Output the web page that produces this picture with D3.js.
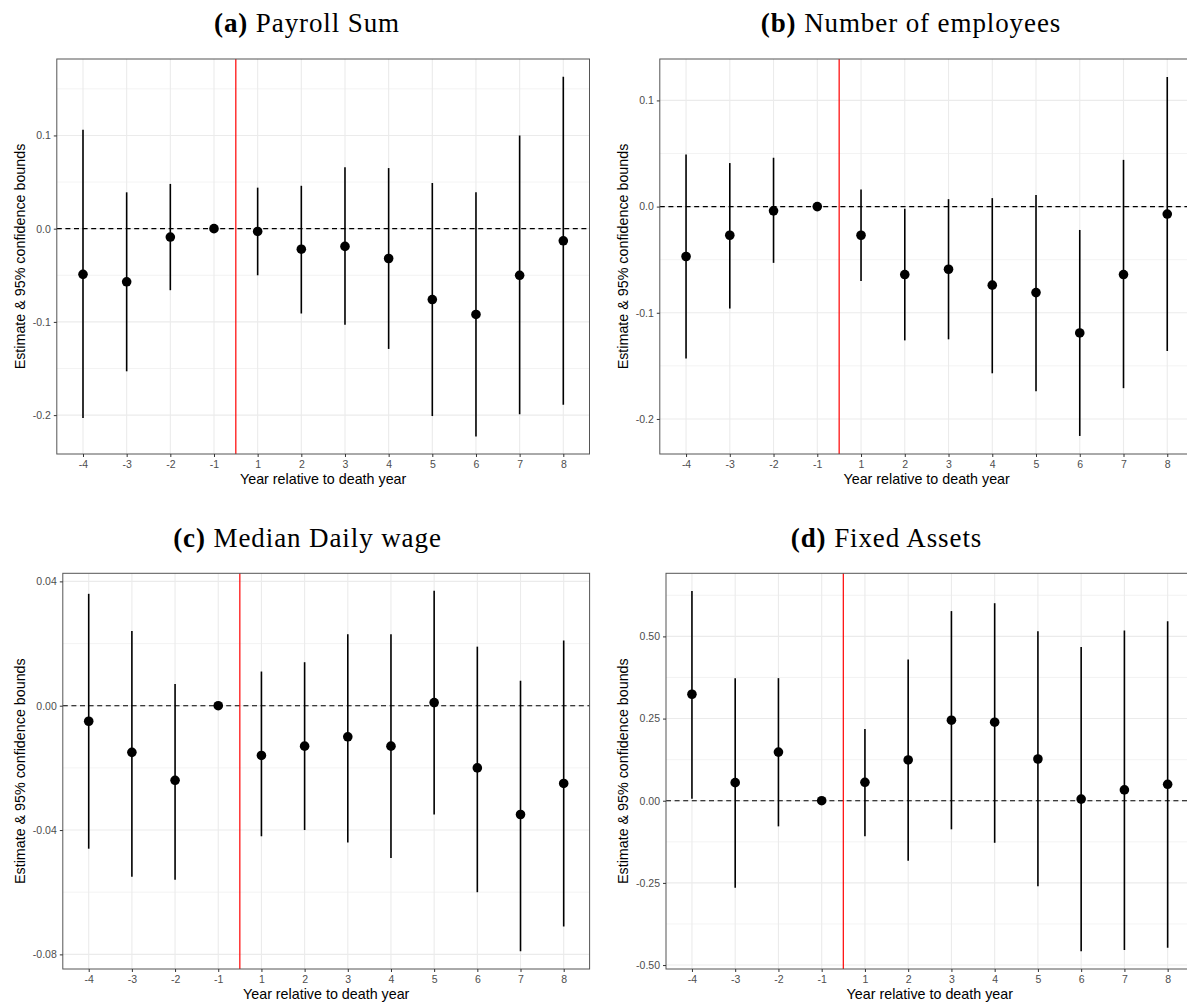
<!DOCTYPE html>
<html>
<head>
<meta charset="utf-8">
<script src="https://cdn.jsdelivr.net/npm/d3@7"></script>
<style>
body{margin:0;background:#fff}
svg{display:block}
</style>
</head>
<body>
<svg></svg>
<script>
// years relative to death year (discrete axis)
let years = ["-4","-3","-2","-1","1","2","3","4","5","6","7","8"]

// (a) payroll sum
let payrollEst  = [-0.049,-0.057,-0.009,0,-0.003,-0.022,-0.019,-0.032,-0.076,-0.092,-0.050,-0.013]
let payrollLow  = [-0.203,-0.153,-0.066,0,-0.050,-0.091,-0.103,-0.129,-0.201,-0.223,-0.199,-0.189]
let payrollHigh = [0.106,0.039,0.048,0,0.044,0.046,0.066,0.065,0.049,0.039,0.100,0.163]
let payrollTicks = [-0.2,-0.1,0,0.1]
let payrollTickLabels = ["-0.2","-0.1","0.0","0.1"]

// (b) number of employees
let employeesEst  = [-0.047,-0.027,-0.004,0,-0.027,-0.064,-0.059,-0.074,-0.081,-0.119,-0.064,-0.007]
let employeesLow  = [-0.143,-0.096,-0.053,0,-0.070,-0.126,-0.125,-0.157,-0.174,-0.216,-0.171,-0.136]
let employeesHigh = [0.049,0.041,0.046,0,0.016,-0.002,0.007,0.008,0.011,-0.022,0.044,0.122]
let employeesTicks = [-0.2,-0.1,0,0.1]
let employeesTickLabels = ["-0.2","-0.1","0.0","0.1"]

// (c) median daily wage
let wageEst  = [-0.005,-0.015,-0.024,0,-0.016,-0.013,-0.010,-0.013,0.001,-0.020,-0.035,-0.025]
let wageLow  = [-0.046,-0.055,-0.056,0,-0.042,-0.040,-0.044,-0.049,-0.035,-0.060,-0.079,-0.071]
let wageHigh = [0.036,0.024,0.007,0,0.011,0.014,0.023,0.023,0.037,0.019,0.008,0.021]
let wageTicks = [-0.08,-0.04,0,0.04]
let wageTickLabels = ["-0.08","-0.04","0.00","0.04"]

// (d) fixed assets
let assetsEst  = [0.324,0.055,0.148,0,0.056,0.124,0.245,0.239,0.127,0.005,0.033,0.050]
let assetsLow  = [0.006,-0.265,-0.078,0,-0.108,-0.183,-0.087,-0.128,-0.260,-0.458,-0.454,-0.447]
let assetsHigh = [0.638,0.373,0.373,0,0.218,0.430,0.577,0.601,0.516,0.468,0.518,0.546]
let assetsTicks = [-0.5,-0.25,0,0.25,0.5]
let assetsTickLabels = ["-0.50","-0.25","0.00","0.25","0.50"]

let width = 1187
let height = 1003

let svg = d3.select('svg').attr("width", width).attr("height", height)

let panels = [
    {letter:"(a)", title:"Payroll Sum", est:payrollEst, low:payrollLow, high:payrollHigh,
     ticks:payrollTicks, labels:payrollTickLabels, domain:[-0.2417,0.182],
     left:56.8, right:589.5, top:59, bottom:454, titleX:307, titleY:32, yTitleX:25},
    {letter:"(b)", title:"Number of employees", est:employeesEst, low:employeesLow, high:employeesHigh,
     ticks:employeesTicks, labels:employeesTickLabels, domain:[-0.233,0.139],
     left:659.8, right:1193.5, top:59, bottom:454, titleX:911, titleY:32, yTitleX:628},
    {letter:"(c)", title:"Median Daily wage", est:wageEst, low:wageLow, high:wageHigh,
     ticks:wageTicks, labels:wageTickLabels, domain:[-0.0847,0.0426],
     left:62.8, right:589.6, top:573.3, bottom:969, titleX:307.5, titleY:547, yTitleX:25},
    {letter:"(d)", title:"Fixed Assets", est:assetsEst, low:assetsLow, high:assetsHigh,
     ticks:assetsTicks, labels:assetsTickLabels, domain:[-0.512,0.692],
     left:666, right:1193.6, top:573.3, bottom:969, titleX:886.5, titleY:547, yTitleX:628}
]

let drawPanel = (p) => {
    let g = svg.append("g")

    let xScale = d3.scalePoint().domain(years).range([p.left, p.right]).padding(0.6)
    let yScale = d3.scaleLinear().domain(p.domain).range([p.bottom, p.top])

    // minor grid halfway between major ticks
    let step = p.ticks[1] - p.ticks[0]
    let minors = []
    for (let i = -1; i < p.ticks.length; i++) {
        let m = p.ticks[0] + step * (i + 0.5)
        if (m > p.domain[0] && m < p.domain[1]) minors.push(m)
    }
    g.selectAll(".minor").data(minors).enter().append("line")
        .attr("x1", p.left).attr("x2", p.right)
        .attr("y1", d => yScale(d)).attr("y2", d => yScale(d))
        .attr("stroke", "#f0f0f0").attr("stroke-width", 0.8)

    g.selectAll(".majorY").data(p.ticks).enter().append("line")
        .attr("x1", p.left).attr("x2", p.right)
        .attr("y1", d => yScale(d)).attr("y2", d => yScale(d))
        .attr("stroke", "#ebebeb").attr("stroke-width", 1.1)

    g.selectAll(".majorX").data(years).enter().append("line")
        .attr("x1", d => xScale(d)).attr("x2", d => xScale(d))
        .attr("y1", p.top).attr("y2", p.bottom)
        .attr("stroke", "#ebebeb").attr("stroke-width", 1.1)

    // zero reference line
    g.append("line")
        .attr("x1", p.left).attr("x2", p.right)
        .attr("y1", yScale(0)).attr("y2", yScale(0))
        .attr("stroke", "#000").attr("stroke-width", 1.1)
        .attr("stroke-dasharray", "5,3.6")

    // death year marker between -1 and 1
    let vx = (xScale("-1") + xScale("1")) / 2
    g.append("line")
        .attr("x1", vx).attr("x2", vx)
        .attr("y1", p.top).attr("y2", p.bottom)
        .attr("stroke", "#ff0000").attr("stroke-width", 1.2)

    g.selectAll(".bar").data(years).enter().append("line")
        .attr("x1", d => xScale(d)).attr("x2", d => xScale(d))
        .attr("y1", (d, i) => yScale(p.low[i])).attr("y2", (d, i) => yScale(p.high[i]))
        .attr("stroke", "#000").attr("stroke-width", 1.6)

    g.selectAll(".pt").data(years).enter().append("circle")
        .attr("cx", d => xScale(d))
        .attr("cy", (d, i) => yScale(p.est[i]))
        .attr("r", 4.8)
        .attr("fill", "#000")

    // panel border
    g.append("rect")
        .attr("x", p.left).attr("y", p.top)
        .attr("width", p.right - p.left).attr("height", p.bottom - p.top)
        .attr("fill", "none").attr("stroke", "#555").attr("stroke-width", 1)

    let yAxis = d3.axisLeft(yScale).tickValues(p.ticks)
        .tickFormat((d, i) => p.labels[i]).tickSize(3).tickPadding(3)
    let ya = g.append("g").attr("transform", "translate(" + p.left + ",0)").call(yAxis)

    let xAxis = d3.axisBottom(xScale).tickSize(3).tickPadding(4)
    let xa = g.append("g").attr("transform", "translate(0," + p.bottom + ")").call(xAxis)

    ;[ya, xa].forEach(a => {
        a.select(".domain").remove()
        a.selectAll(".tick line").attr("stroke", "#333")
        a.selectAll(".tick text").attr("fill", "#4d4d4d")
            .style("font-family", "'Liberation Sans', Arial, sans-serif").style("font-size", "10.5px")
    })

    g.append("text")
        .attr("x", (p.left + p.right) / 2)
        .attr("y", p.bottom + 30)
        .attr("text-anchor", "middle")
        .style("font-family", "'Liberation Sans', Arial, sans-serif").style("font-size", "14.3px")
        .text("Year relative to death year")

    g.append("text")
        .attr("transform", "translate(" + p.yTitleX + "," + ((p.top + p.bottom) / 2) + ") rotate(-90)")
        .attr("text-anchor", "middle")
        .style("font-family", "'Liberation Sans', Arial, sans-serif").style("font-size", "14.3px")
        .text("Estimate & 95% confidence bounds")

    let t = g.append("text")
        .attr("x", p.titleX).attr("y", p.titleY)
        .attr("text-anchor", "middle")
        .style("font-family", "'Liberation Serif', 'DejaVu Serif', serif").style("font-size", "27px")
        .style("letter-spacing", "0.9px")
    t.append("tspan").attr("font-weight", "bold").text(p.letter)
    t.append("tspan").text(" " + p.title)
}

panels.forEach(drawPanel)
</script>
</body>
</html>
